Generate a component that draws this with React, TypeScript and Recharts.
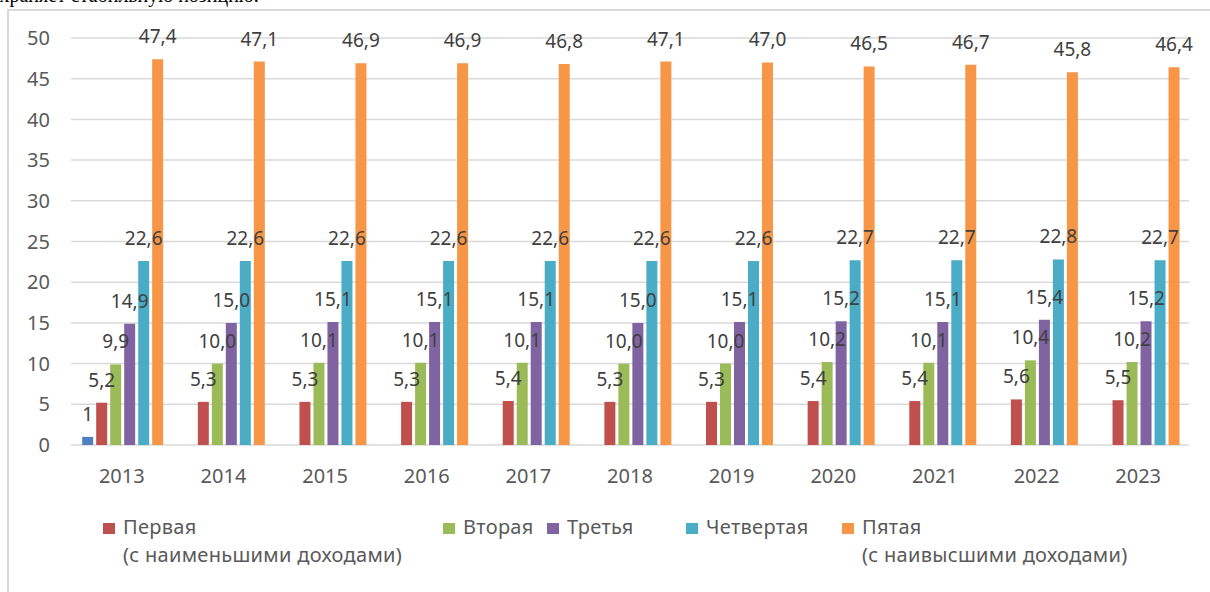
import { BarChart, Bar, XAxis, YAxis, CartesianGrid, LabelList, Legend } from 'recharts';

const years = ['2013', '2014', '2015', '2016', '2017', '2018', '2019', '2020', '2021', '2022', '2023'];
const extraSeries = [1, null, null, null, null, null, null, null, null, null, null];
const firstGroup = [5.2, 5.3, 5.3, 5.3, 5.4, 5.3, 5.3, 5.4, 5.4, 5.6, 5.5];
const secondGroup = [9.9, 10.0, 10.1, 10.1, 10.1, 10.0, 10.0, 10.2, 10.1, 10.4, 10.2];
const thirdGroup = [14.9, 15.0, 15.1, 15.1, 15.1, 15.0, 15.1, 15.2, 15.1, 15.4, 15.2];
const fourthGroup = [22.6, 22.6, 22.6, 22.6, 22.6, 22.6, 22.6, 22.7, 22.7, 22.8, 22.7];
const fifthGroup = [47.4, 47.1, 46.9, 46.9, 46.8, 47.1, 47.0, 46.5, 46.7, 45.8, 46.4];
const yTicks = [0, 5, 10, 15, 20, 25, 30, 35, 40, 45, 50];

const seriesKeys = ['first', 'second', 'third', 'fourth', 'fifth'];
const seriesNames = {
  first: 'Первая\n(с наименьшими доходами)',
  second: 'Вторая',
  third: 'Третья',
  fourth: 'Четвертая',
  fifth: 'Пятая\n(с наивысшими доходами)',
};

const data = years.map((year, i) => ({
  year,
  extra: extraSeries[i],
  first: firstGroup[i],
  second: secondGroup[i],
  third: thirdGroup[i],
  fourth: fourthGroup[i],
  fifth: fifthGroup[i],
}));

const FONT = '"Noto Sans", "Open Sans", sans-serif';
const legendWidths = [340, 104, 139, 156, 320];

const fmt = (v: any) => (v == null ? '' : Number(v).toFixed(1).replace('.', ','));

function LegendBox(props: any) {
  const payload = props.payload || [];
  const items = seriesKeys
    .map((k) => payload.find((p: any) => p.dataKey === k))
    .filter(Boolean);
  return (
    <div style={{ display: 'flex', paddingLeft: 103, fontFamily: FONT, fontSize: 20, letterSpacing: 0.3, lineHeight: '28px', color: '#595959' }}>
      {items.map((p: any, i: number) => (
        <div key={p.dataKey} style={{ display: 'flex', width: legendWidths[i], flexShrink: 0 }}>
          <div style={{ width: 12, height: 11, background: p.color, marginTop: 10, marginRight: 8, flexShrink: 0 }} />
          <div style={{ whiteSpace: 'pre' }}>{p.value}</div>
        </div>
      ))}
    </div>
  );
}

export default function App() {
  const labelStyle = { fill: '#404040', fontSize: 19, fontFamily: FONT };
  return (
    <div style={{ position: 'fixed', left: 0, top: 0, width: 1210, height: 592, overflow: 'hidden', background: '#fff' }}>
      <div style={{ position: 'absolute', left: -19, top: -15, fontFamily: '"Liberation Serif", serif', fontSize: 20, lineHeight: '20px', whiteSpace: 'nowrap', color: '#000' }}>
        сохраняет стабильную позицию.
      </div>
      <div style={{ position: 'absolute', left: 7, top: 9, width: 1400, height: 800, border: '2px solid #d9d9d9' }} />
      <div style={{ position: 'absolute', left: 0, top: 0 }}>
        <BarChart
          width={1210}
          height={592}
          data={data}
          margin={{ top: 38, right: 21, bottom: 117, left: 0 }}
          barCategoryGap="11%"
          barGap={3}
        >
          <CartesianGrid vertical={false} stroke="#d9d9d9" strokeWidth={1.5} />
          <XAxis
            dataKey="year"
            axisLine={false}
            tickLine={false}
            tickMargin={18}
            height={30}
            tick={{ fill: '#595959', fontSize: 20, fontFamily: FONT }}
          />
          <YAxis
            domain={[0, 50]}
            ticks={yTicks}
            width={71}
            axisLine={false}
            tickLine={false}
            tickMargin={15}
            tick={{ fill: '#595959', fontSize: 20, fontFamily: FONT }}
          />
          <Legend
            layout="horizontal"
            verticalAlign="middle"
            align="center"
            wrapperStyle={{ left: 0, top: 513, width: 1210 }}
            content={<LegendBox />}
          />
          <Bar dataKey="extra" fill="#4f81bd" legendType="none" isAnimationActive={false}>
            <LabelList dataKey="extra" position="top" offset={16} style={labelStyle} formatter={(v: any) => (v == null ? '' : String(v))} />
          </Bar>
          <Bar dataKey="first" name={seriesNames.first} fill="#c0504d" isAnimationActive={false}>
            <LabelList dataKey="first" position="top" offset={16} style={labelStyle} formatter={fmt} />
          </Bar>
          <Bar dataKey="second" name={seriesNames.second} fill="#9bbb59" isAnimationActive={false}>
            <LabelList dataKey="second" position="top" offset={16} style={labelStyle} formatter={fmt} />
          </Bar>
          <Bar dataKey="third" name={seriesNames.third} fill="#8064a2" isAnimationActive={false}>
            <LabelList dataKey="third" position="top" offset={16} style={labelStyle} formatter={fmt} />
          </Bar>
          <Bar dataKey="fourth" name={seriesNames.fourth} fill="#4bacc6" isAnimationActive={false}>
            <LabelList dataKey="fourth" position="top" offset={16} style={labelStyle} formatter={fmt} />
          </Bar>
          <Bar dataKey="fifth" name={seriesNames.fifth} fill="#f79646" isAnimationActive={false}>
            <LabelList dataKey="fifth" position="top" offset={16} style={labelStyle} formatter={fmt} />
          </Bar>
        </BarChart>
      </div>
    </div>
  );
}
